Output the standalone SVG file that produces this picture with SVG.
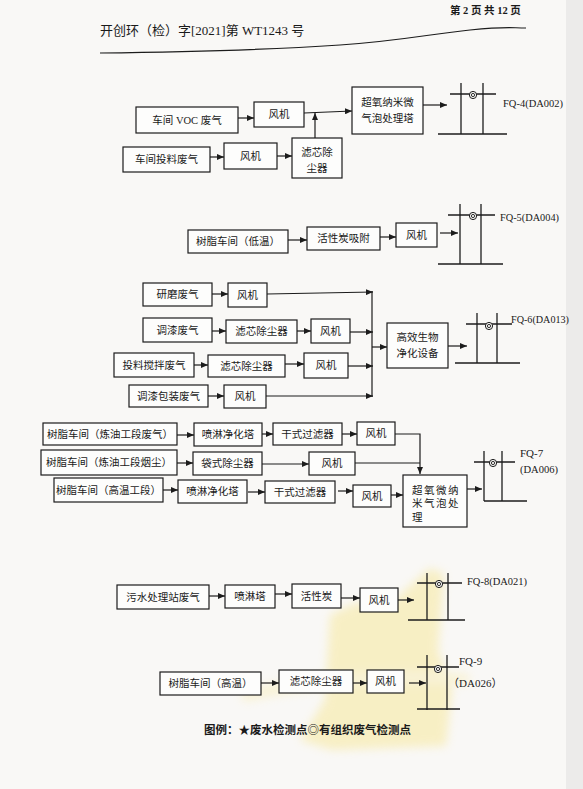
<svg xmlns="http://www.w3.org/2000/svg" width="583" height="789" viewBox="0 0 583 789">
<defs>
<marker id="ah" markerWidth="7" markerHeight="6" refX="7" refY="3" orient="auto" markerUnits="userSpaceOnUse"><path d="M0,0 L7,3 L0,6 z" fill="#1c1c1c"/></marker>
<filter id="soft" x="-20%" y="-20%" width="140%" height="140%"><feGaussianBlur stdDeviation="5"/></filter>
</defs>
<style>
.b{fill:#fdfdfc;stroke:#1c1c1c;stroke-width:1.2}
.t{font-family:"Liberation Serif","Noto Sans CJK SC",serif;font-size:10.5px;fill:#1a1a1a;text-anchor:middle}
.l{font-family:"Liberation Serif","Noto Sans CJK SC",serif;font-size:11px;fill:#1a1a1a}
.c{fill:none;stroke:#1c1c1c;stroke-width:1.2}
.a{fill:none;stroke:#1c1c1c;stroke-width:1.2;marker-end:url(#ah)}
.s{fill:none;stroke:#1c1c1c;stroke-width:1.3}
</style>
<rect width="583" height="789" fill="#f9f8f6"/>
<rect x="566" y="0" width="17" height="789" fill="#ecebea"/>
<g id="watermark" opacity="0.4" filter="url(#soft)">
<path d="M330,615 L355,603 L392,602 L430,568 L444,574 L438,650 L452,690 L446,746 L332,750 L300,740 L325,700 Z" fill="#f6e27c"/>
<path d="M240,692 Q330,664 470,674 L468,684 Q340,680 244,702 Z" fill="#f8eba8"/>
</g>
<g id="header">
<text x="450" y="14" style="font-family:'Liberation Serif','Noto Sans CJK SC',serif;font-size:10.5px;font-weight:bold;fill:#1a1a1a">第 2 页 共 12 页</text>
<text x="100" y="35" style="font-family:'Liberation Serif','Noto Sans CJK SC',serif;font-size:13px;fill:#1a1a1a">开创环（检）字[2021]第 WT1243 号</text>
<path d="M100,53 C200,52 280,49 340,45 S430,34 470,30 S510,28 526,28" class="c"/>
</g>
<g id="connectors">
<line x1="238" y1="118" x2="254" y2="118" class="a"/>
<line x1="304" y1="113" x2="352" y2="111" class="a"/>
<line x1="315" y1="138" x2="315" y2="113" class="a"/>
<line x1="210" y1="157" x2="224" y2="157" class="a"/>
<line x1="277" y1="156" x2="292" y2="156" class="a"/>
<line x1="423" y1="105" x2="447" y2="105" class="a"/>
<line x1="288" y1="240" x2="307" y2="240" class="a"/>
<line x1="380" y1="237" x2="396" y2="237" class="a"/>
<line x1="440" y1="233" x2="458" y2="233" class="a"/>
<line x1="212" y1="294" x2="228" y2="294" class="a"/>
<line x1="267" y1="294" x2="373" y2="292" class="a"/>
<line x1="212" y1="331" x2="226" y2="331" class="a"/>
<line x1="297" y1="331" x2="311" y2="331" class="a"/>
<line x1="350" y1="332" x2="373" y2="332" class="a"/>
<line x1="194" y1="365" x2="208" y2="365" class="a"/>
<line x1="285" y1="364" x2="304" y2="364" class="a"/>
<line x1="348" y1="366" x2="373" y2="366" class="a"/>
<line x1="208" y1="396" x2="224" y2="396" class="a"/>
<line x1="266" y1="396" x2="373" y2="396" class="a"/>
<line x1="372" y1="291" x2="372" y2="397" class="c"/>
<line x1="372" y1="347" x2="387" y2="347" class="a"/>
<line x1="448" y1="346" x2="467" y2="346" class="a"/>
<line x1="177" y1="435" x2="194" y2="435" class="a"/>
<line x1="262" y1="434" x2="273" y2="434" class="a"/>
<line x1="342" y1="434" x2="357" y2="434" class="a"/>
<path d="M395,434 L420,434 L420,474" class="a"/>
<line x1="177" y1="463" x2="193" y2="463" class="a"/>
<line x1="262" y1="464" x2="309" y2="464" class="a"/>
<line x1="355" y1="463" x2="420" y2="463" class="c"/>
<line x1="163" y1="490" x2="178" y2="490" class="a"/>
<line x1="248" y1="492" x2="265" y2="492" class="a"/>
<line x1="338" y1="491" x2="353" y2="491" class="a"/>
<line x1="391" y1="495" x2="403" y2="495" class="a"/>
<line x1="467" y1="489" x2="482" y2="489" class="a"/>
<line x1="209" y1="596" x2="225" y2="596" class="a"/>
<line x1="275" y1="594" x2="292" y2="594" class="a"/>
<line x1="341" y1="598" x2="360" y2="598" class="a"/>
<line x1="398" y1="600" x2="414" y2="600" class="a"/>
<line x1="261" y1="683" x2="279" y2="683" class="a"/>
<line x1="353" y1="683" x2="367" y2="683" class="a"/>
<line x1="409" y1="683" x2="426" y2="683" class="a"/>
</g>
<g id="n_voc"><rect x="136" y="107" width="102" height="26" class="b"/><text x="187" y="124" class="t">车间 VOC 废气</text></g>
<g id="n_fan1"><rect x="254" y="102" width="50" height="25" class="b"/><text x="279" y="118" class="t">风机</text></g>
<g id="n_tl"><rect x="123" y="147" width="87" height="25" class="b"/><text x="166.5" y="163" class="t">车间投料废气</text></g>
<g id="n_fan2"><rect x="224" y="143" width="53" height="26" class="b"/><text x="250.5" y="160" class="t">风机</text></g>
<g id="n_lx1"><rect x="292" y="138" width="50" height="40" class="b"/><text x="317" y="156" class="t">滤芯除</text><text x="317" y="172" class="t">尘器</text></g>
<g id="n_cy1"><rect x="352" y="87" width="71" height="47" class="b"/><text x="387.5" y="106" class="t">超氧纳米微</text><text x="387.5" y="122" class="t">气泡处理塔</text></g>
<g id="stack_fq4"><line x1="461" y1="83" x2="461" y2="134" class="s"/><line x1="483" y1="83" x2="483" y2="134" class="s"/><line x1="450" y1="94" x2="496" y2="94" class="s"/><line x1="438" y1="134" x2="507" y2="134" class="s"/><circle cx="473" cy="95" r="3.6" fill="#f9f8f6" stroke="#1c1c1c" stroke-width="1"/><circle cx="473" cy="95" r="1.6" fill="none" stroke="#1c1c1c" stroke-width="0.9"/><text x="503" y="107" class="l" textLength="60" lengthAdjust="spacingAndGlyphs">FQ-4(DA002)</text></g>
<g id="n_sz1"><rect x="188" y="230" width="100" height="23" class="b"/><text x="238" y="245" class="t">树脂车间（低温）</text></g>
<g id="n_hx"><rect x="307" y="227" width="73" height="23" class="b"/><text x="343.5" y="242" class="t">活性炭吸附</text></g>
<g id="n_fan3"><rect x="396" y="223" width="41" height="24" class="b"/><text x="416.5" y="239" class="t">风机</text></g>
<g id="stack_fq5"><line x1="460" y1="204" x2="460" y2="264" class="s"/><line x1="481" y1="204" x2="481" y2="264" class="s"/><line x1="448" y1="215" x2="495" y2="215" class="s"/><line x1="438" y1="264" x2="503" y2="264" class="s"/><circle cx="473" cy="216" r="3.6" fill="#f9f8f6" stroke="#1c1c1c" stroke-width="1"/><circle cx="473" cy="216" r="1.6" fill="none" stroke="#1c1c1c" stroke-width="0.9"/><text x="500" y="221" class="l" textLength="59" lengthAdjust="spacingAndGlyphs">FQ-5(DA004)</text></g>
<g id="n_ym"><rect x="143" y="283" width="69" height="23" class="b"/><text x="177.5" y="298" class="t">研磨废气</text></g>
<g id="n_fan4"><rect x="228" y="283" width="39" height="24" class="b"/><text x="247.5" y="299" class="t">风机</text></g>
<g id="n_tq"><rect x="143" y="318" width="69" height="24" class="b"/><text x="177.5" y="334" class="t">调漆废气</text></g>
<g id="n_lx2"><rect x="226" y="320" width="71" height="23" class="b"/><text x="261.5" y="335" class="t">滤芯除尘器</text></g>
<g id="n_fan5"><rect x="311" y="319" width="39" height="24" class="b"/><text x="330.5" y="335" class="t">风机</text></g>
<g id="n_tljb"><rect x="114" y="353" width="80" height="24" class="b"/><text x="154" y="369" class="t">投料搅拌废气</text></g>
<g id="n_lx3"><rect x="208" y="355" width="77" height="22" class="b"/><text x="246.5" y="370" class="t">滤芯除尘器</text></g>
<g id="n_fan6"><rect x="304" y="353" width="44" height="25" class="b"/><text x="326" y="369" class="t">风机</text></g>
<g id="n_tqbz"><rect x="129" y="385" width="79" height="22" class="b"/><text x="168.5" y="400" class="t">调漆包装废气</text></g>
<g id="n_fan7"><rect x="224" y="385" width="42" height="23" class="b"/><text x="245" y="400" class="t">风机</text></g>
<g id="n_gx"><rect x="387" y="323" width="61" height="45" class="b"/><text x="417.5" y="341" class="t">高效生物</text><text x="417.5" y="357" class="t">净化设备</text></g>
<g id="stack_fq6"><line x1="477" y1="313" x2="477" y2="363" class="s"/><line x1="497" y1="313" x2="497" y2="363" class="s"/><line x1="466" y1="324" x2="512" y2="324" class="s"/><line x1="455" y1="363" x2="520" y2="363" class="s"/><circle cx="489" cy="326" r="3.6" fill="#f9f8f6" stroke="#1c1c1c" stroke-width="1"/><circle cx="489" cy="326" r="1.6" fill="none" stroke="#1c1c1c" stroke-width="0.9"/><text x="511" y="323" class="l" textLength="58" lengthAdjust="spacingAndGlyphs">FQ-6(DA013)</text></g>
<g id="n_sz2"><rect x="43" y="423" width="134" height="22" class="b"/><text x="110" y="438" class="t">树脂车间（炼油工段废气）</text></g>
<g id="n_pl1"><rect x="194" y="423" width="68" height="23" class="b"/><text x="228" y="438" class="t">喷淋净化塔</text></g>
<g id="n_gs1"><rect x="273" y="423" width="69" height="22" class="b"/><text x="307.5" y="438" class="t">干式过滤器</text></g>
<g id="n_fan8"><rect x="357" y="422" width="38" height="23" class="b"/><text x="376" y="437" class="t">风机</text></g>
<g id="n_sz3"><rect x="41" y="450" width="136" height="25" class="b"/><text x="109" y="466" class="t">树脂车间（炼油工段烟尘）</text></g>
<g id="n_ds"><rect x="193" y="452" width="69" height="23" class="b"/><text x="227.5" y="467" class="t">袋式除尘器</text></g>
<g id="n_fan9"><rect x="309" y="452" width="46" height="23" class="b"/><text x="332" y="467" class="t">风机</text></g>
<g id="n_sz4"><rect x="54" y="478" width="109" height="24" class="b"/><text x="108.5" y="494" class="t">树脂车间（高温工段）</text></g>
<g id="n_pl2"><rect x="178" y="480" width="69" height="23" class="b"/><text x="212.5" y="495" class="t">喷淋净化塔</text></g>
<g id="n_gs2"><rect x="265" y="481" width="70" height="22" class="b"/><text x="300" y="496" class="t">干式过滤器</text></g>
<g id="n_fan10"><rect x="353" y="485" width="38" height="22" class="b"/><text x="372" y="500" class="t">风机</text></g>
<g id="n_cy2"><rect x="403" y="475" width="64" height="52" class="b"/><text x="412" y="494" class="t" style="text-anchor:start;letter-spacing:1.5px">超氧微纳</text><text x="412" y="507" class="t" style="text-anchor:start;letter-spacing:1.5px">米气泡处</text><text x="412" y="521" class="t" style="text-anchor:start">理</text></g>
<g id="stack_fq7"><line x1="484" y1="451" x2="484" y2="501" class="s"/><line x1="502" y1="451" x2="502" y2="501" class="s"/><line x1="474" y1="462" x2="515" y2="462" class="s"/><line x1="484" y1="501" x2="527" y2="501" class="s"/><circle cx="493" cy="463" r="3.6" fill="#f9f8f6" stroke="#1c1c1c" stroke-width="1"/><circle cx="493" cy="463" r="1.6" fill="none" stroke="#1c1c1c" stroke-width="0.9"/><text x="520" y="457" class="l">FQ-7</text><text x="520" y="473" class="l" textLength="38" lengthAdjust="spacingAndGlyphs">(DA006)</text></g>
<g id="n_ws"><rect x="117" y="585" width="92" height="24" class="b"/><text x="163" y="601" class="t">污水处理站废气</text></g>
<g id="n_plt"><rect x="225" y="585" width="50" height="23" class="b"/><text x="250" y="600" class="t">喷淋塔</text></g>
<g id="n_hxt"><rect x="292" y="584" width="49" height="24" class="b"/><text x="316.5" y="600" class="t">活性炭</text></g>
<g id="n_fan11"><rect x="360" y="588" width="38" height="24" class="b"/><text x="379" y="604" class="t">风机</text></g>
<g id="stack_fq8"><line x1="427" y1="573" x2="427" y2="620" class="s"/><line x1="448" y1="573" x2="448" y2="620" class="s"/><line x1="417" y1="583" x2="462" y2="583" class="s"/><line x1="408" y1="620" x2="465" y2="620" class="s"/><circle cx="439" cy="584" r="3.6" fill="#f9f8f6" stroke="#1c1c1c" stroke-width="1"/><circle cx="439" cy="584" r="1.6" fill="none" stroke="#1c1c1c" stroke-width="0.9"/><text x="467" y="585" class="l" textLength="60" lengthAdjust="spacingAndGlyphs">FQ-8(DA021)</text></g>
<g id="n_sz5"><rect x="160" y="672" width="101" height="23" class="b"/><text x="210.5" y="687" class="t">树脂车间（高温）</text></g>
<g id="n_lx4"><rect x="279" y="670" width="74" height="23" class="b"/><text x="316" y="685" class="t">滤芯除尘器</text></g>
<g id="n_fan12"><rect x="367" y="670" width="37" height="23" class="b"/><text x="385.5" y="685" class="t">风机</text></g>
<g id="stack_fq9"><line x1="427" y1="655" x2="427" y2="710" class="s"/><line x1="447" y1="655" x2="447" y2="710" class="s"/><line x1="417" y1="667" x2="459" y2="667" class="s"/><line x1="417" y1="709" x2="460" y2="709" class="s"/><circle cx="438" cy="669" r="3.6" fill="#f9f8f6" stroke="#1c1c1c" stroke-width="1"/><circle cx="438" cy="669" r="1.6" fill="none" stroke="#1c1c1c" stroke-width="0.9"/><text x="459" y="665" class="l">FQ-9</text><text x="448" y="687" class="l">（DA026）</text></g>
<g id="legend"><text x="204" y="734" style="font-family:'Liberation Serif','Noto Sans CJK SC',serif;font-size:11.5px;font-weight:bold;fill:#1a1a1a">图例：★废水检测点◎有组织废气检测点</text></g>
</svg>
